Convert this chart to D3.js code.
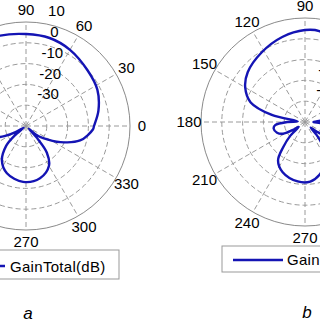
<!DOCTYPE html>
<html>
<head>
<meta charset="utf-8">
<script src="https://cdn.jsdelivr.net/npm/d3@7"></script>
<style>
  html, body { margin: 0; padding: 0; background: #fff; }
  text { font-family: 'Liberation Sans', Arial, sans-serif; fill: #000; }
</style>
</head>
<body>
<div id="chart-area"></div>
<script>
const WIDTH = 320;
const HEIGHT = 320;
const RADIUS = 104;
const LINE_COLOR = '#1414b4';

// gain pattern (a), angle in degrees, gain in dB
const anglesA = [0, 12, 27, 42, 60, 75, 90, 106, 120, 135, 150, 165, 180, 192, 200, 205, 210, 215,
  220, 225, 235, 248, 267, 285, 300, 308, 312, 316, 319, 325, 335, 345, 357];
const gainA = [-7.3, -4.4, -1.5, -0.1, 2.3, 3.8, 4.2, 5.2, 5.7, 4.7, 1.3, -5.4, -13.1, -19.8, -24.1, -28.5, -34.2, -38.6,
  -32.8, -26.5, -19.8, -15.5, -13.1, -14.0, -17.9, -23.7, -31.3, -38.1, -33.8, -29.9, -21.7, -13.1, -7.8];

// gain pattern (b)
const anglesB = [0, 6, 12, 20, 30, 41, 58, 75, 81, 90, 105, 122, 139, 150, 160, 168, 175, 180, 186, 192,
  201, 208, 213, 218, 223, 229, 235, 246, 263, 275, 285, 294, 305, 311, 316, 321, 326, 333, 342, 348, 355];
const gainB = [-36.0, -31.0, -23.7, -12.1, -6.8, -3.5, -0.6, 2.3, 4.2, 4.2, 2.3, -0.6, -3.5, -6.8, -12.1, -23.7, -36.5, -31.5, -25.6, -24.6,
  -25.6, -28.0, -32.8, -36.2, -30.4, -24.1, -17.4, -13.6, -11.2, -11.2, -13.6, -17.4, -24.1, -30.4, -36.2, -32.8, -28.0, -25.6, -24.6, -25.6, -31.5];

const ringTicks = [-30, -20, -10, 0, 10];
const angleTicks = [0, 30, 60, 90, 120, 150, 180, 210, 240, 270, 300, 330];
const legendLabel = 'GainTotal(dB)';

main();

function main() {
  const svg = d3.select('#chart-area').append('svg')
    .attr('width', WIDTH)
    .attr('height', HEIGHT);

  drawPolar(svg, 26, 126, anglesA, gainA);
  drawPolar(svg, 305, 122, anglesB, gainB);

  drawLegend(svg, {x: -20, y: 250, w: 139, h: 29, x1: -30, x2: 5, ly: 266, tx: 10, ty: 272});
  drawLegend(svg, {x: 222, y: 246, w: 160, h: 26, x1: 233, x2: 283, ly: 260, tx: 287, ty: 265});

  svg.append('text')
    .attr('x', 28).attr('y', 319)
    .attr('text-anchor', 'middle')
    .attr('font-size', 17)
    .attr('font-style', 'italic')
    .text('a');
  svg.append('text')
    .attr('x', 307).attr('y', 318)
    .attr('text-anchor', 'middle')
    .attr('font-size', 17)
    .attr('font-style', 'italic')
    .text('b');
}

function drawPolar(svg, cx, cy, angles, gains) {
  const r = d3.scaleLinear().domain([-40, 10]).range([0, RADIUS]);
  const rad = a => a * Math.PI / 180;
  const g = svg.append('g').attr('transform', `translate(${ cx }, ${ cy })`);

  g.append('circle')
    .attr('r', RADIUS)
    .attr('fill', '#fff')
    .attr('stroke', '#8a8a8a')
    .attr('stroke-width', 1);

  g.selectAll('.ring')
    .data(ringTicks.slice(0, -1))
    .enter().append('circle')
    .attr('class', 'ring')
    .attr('r', d => r(d))
    .attr('fill', 'none')
    .attr('stroke', '#9a9a9a')
    .attr('stroke-width', 1)
    .attr('stroke-dasharray', '5,3');

  g.selectAll('.spoke')
    .data(angleTicks)
    .enter().append('line')
    .attr('class', 'spoke')
    .attr('x1', 0).attr('y1', 0)
    .attr('x2', d => RADIUS * Math.cos(rad(d)))
    .attr('y2', d => -RADIUS * Math.sin(rad(d)))
    .attr('stroke', '#9a9a9a')
    .attr('stroke-width', 1)
    .attr('stroke-dasharray', '5,3');

  g.selectAll('.rlabel')
    .data(ringTicks)
    .enter().append('text')
    .attr('class', 'rlabel')
    .attr('x', d => 20 + r(d) * 0.1)
    .attr('y', d => -r(d) - 11)
    .attr('dy', '0.35em')
    .attr('text-anchor', 'middle')
    .attr('font-size', 15)
    .text(d => d);

  g.selectAll('.alabel')
    .data(angleTicks)
    .enter().append('text')
    .attr('class', 'alabel')
    .attr('x', d => 116 * Math.cos(rad(d)))
    .attr('y', d => -116 * Math.sin(rad(d)))
    .attr('dy', '0.35em')
    .attr('text-anchor', 'middle')
    .attr('font-size', 15)
    .text(d => d);

  const line = d3.lineRadial()
    .angle(d => Math.PI / 2 - rad(d[0]))
    .radius(d => r(d[1]))
    .curve(d3.curveCatmullRomClosed.alpha(0.5));

  g.append('path')
    .datum(d3.zip(angles, gains))
    .attr('d', line)
    .attr('fill', 'none')
    .attr('stroke', LINE_COLOR)
    .attr('stroke-width', 2.4);
}

function drawLegend(svg, o) {
  svg.append('rect')
    .attr('x', o.x).attr('y', o.y)
    .attr('width', o.w).attr('height', o.h)
    .attr('fill', '#fff')
    .attr('stroke', '#999')
    .attr('stroke-width', 1);
  svg.append('line')
    .attr('x1', o.x1).attr('x2', o.x2)
    .attr('y1', o.ly).attr('y2', o.ly)
    .attr('stroke', LINE_COLOR)
    .attr('stroke-width', 2.4);
  svg.append('text')
    .attr('x', o.tx).attr('y', o.ty)
    .attr('font-size', 15)
    .attr('letter-spacing', 0.3)
    .text(legendLabel);
}
</script>
</body>
</html>
